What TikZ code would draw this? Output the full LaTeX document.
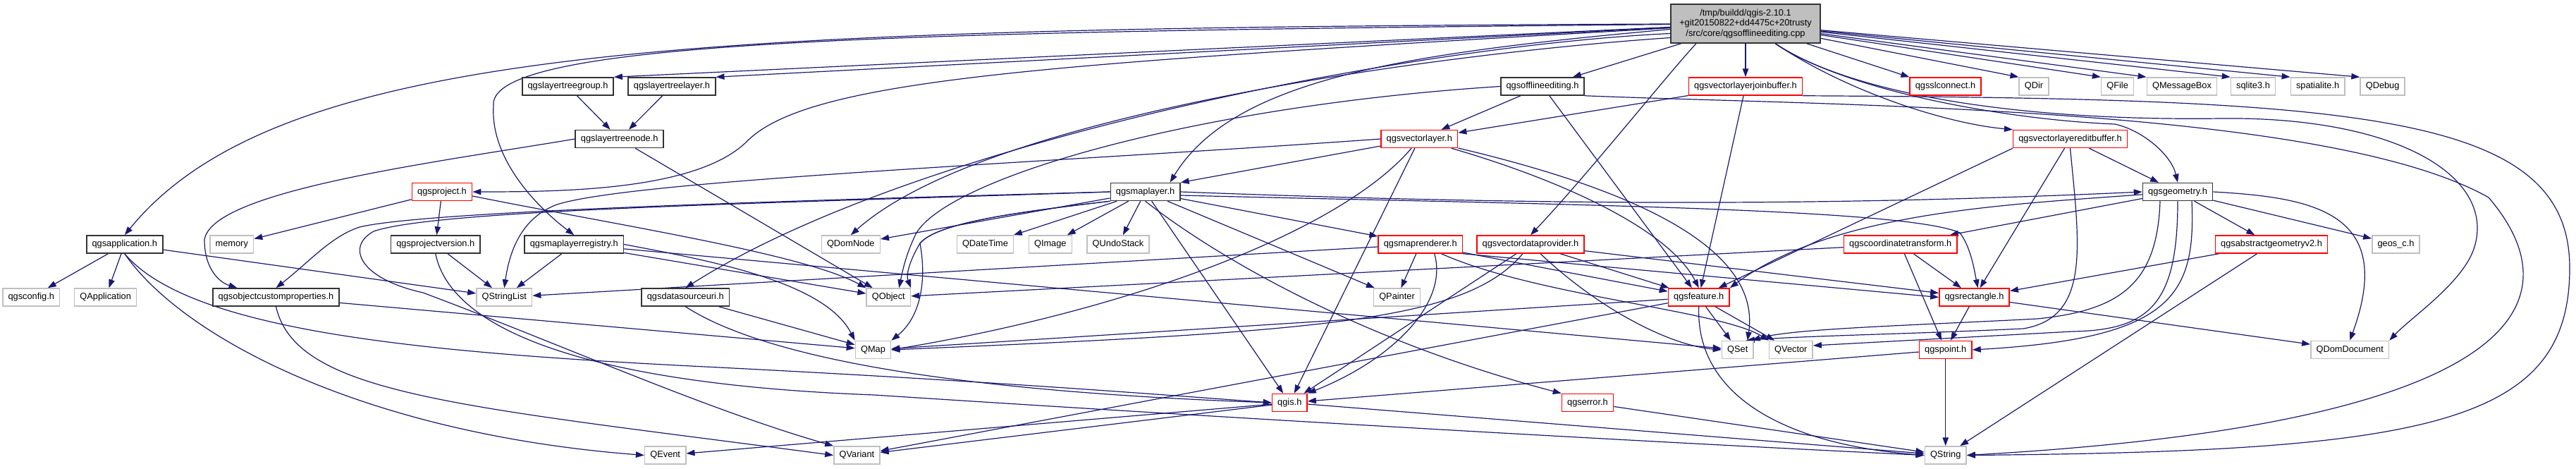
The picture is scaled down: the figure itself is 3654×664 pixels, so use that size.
\documentclass[tikz,border=0pt]{standalone}
\usepackage{fontspec}
\setmainfont{Liberation Sans}
\usetikzlibrary{arrows.meta,calc}
\definecolor{edgec}{HTML}{191970}
\definecolor{redc}{HTML}{FF0000}
\definecolor{grayc}{HTML}{BFBFBF}
\definecolor{blkc}{HTML}{333333}
\pgfdeclarelayer{edgelayer}
\pgfsetlayers{edgelayer,main}
\newcommand\nfont{\fontsize{12.8}{14.7}\selectfont}
\begin{document}
\begin{tikzpicture}[x=1pt,y=-1pt,
  nbase/.style={rectangle, font=\nfont, inner xsep=7.7pt, inner ysep=0pt,
    minimum height=25pt, text height=9.5pt, text depth=2.7pt, fill=white, line width=1.5pt},
  bnode/.style={nbase, draw=blkc},
  rnode/.style={nbase, draw=redc},
  gnode/.style={nbase, draw=grayc},
  rootst/.style={rectangle, draw=blkc, fill=grayc, line width=1.5pt, font=\nfont,
    align=center, minimum width=212pt, minimum height=55pt, inner sep=0pt},
  edg/.style={draw=edgec, line width=1.2pt, -{Triangle[length=12pt,width=8.5pt]}}]
\useasboundingbox (0,0) rectangle (3654,664);
% ---------- nodes ----------
\node[rootst] (root) at (2476,33.5) {/tmp/buildd/qgis-2.10.1\\+git20150822+dd4475c+20trusty\\/src/core/qgsofflineediting.cpp};
\node[bnode] (ltg) at (805.5,122.5) {qgslayertreegroup.h};
\node[bnode] (ltl) at (953,122.5) {qgslayertreelayer.h};
\node[bnode] (oe) at (2188,122.5) {qgsofflineediting.h};
\node[rnode] (jb) at (2476,122.5) {qgsvectorlayerjoinbuffer.h};
\node[rnode] (slc) at (2759.5,122.5) {qgsslconnect.h};
\node[gnode] (qdir) at (2885,122.5) {QDir};
\node[gnode] (qfile) at (3003.6,122.5) {QFile};
\node[gnode] (qmsg) at (3095,122.5) {QMessageBox};
\node[gnode] (sqlite) at (3196,122.5) {sqlite3.h};
\node[gnode] (spatialite) at (3287.6,122.5) {spatialite.h};
\node[gnode] (qdebug) at (3379.6,122.5) {QDebug};
\node[bnode] (ltn) at (878.7,197) {qgslayertreenode.h};
\node[rnode] (vl) at (2013.3,197) {qgsvectorlayer.h};
\node[rnode] (eb) at (2936.5,197) {qgsvectorlayereditbuffer.h};
\node[rnode] (proj) at (627,272) {qgsproject.h};
\node[bnode] (ml) at (1624.6,272) {qgsmaplayer.h};
\node[bnode] (geom) at (3089,272) {qgsgeometry.h};
\node[bnode] (app) at (176.8,346.5) {qgsapplication.h};
\node[gnode] (memory) at (328.8,346.5) {memory};
\node[bnode] (pv) at (617.8,346.5) {qgsprojectversion.h};
\node[bnode] (mlr) at (814.3,346.5) {qgsmaplayerregistry.h};
\node[gnode] (qdomnode) at (1206.8,346.5) {QDomNode};
\node[gnode] (qdatetime) at (1397.5,346.5) {QDateTime};
\node[gnode] (qimage) at (1489.8,346.5) {QImage};
\node[gnode] (qundo) at (1586,346.5) {QUndoStack};
\node[rnode] (mr) at (2014.7,346.5) {qgsmaprenderer.h};
\node[rnode] (vdp) at (2171,346.5) {qgsvectordataprovider.h};
\node[rnode] (ct) at (2695.7,346.5) {qgscoordinatetransform.h};
\node[rnode] (ag) at (3222,346.5) {qgsabstractgeometryv2.h};
\node[gnode] (geos) at (3398.5,346.5) {geos\_c.h};
\node[gnode] (cfg) at (44.3,421.5) {qgsconfig.h};
\node[gnode] (qapp) at (149.7,421.5) {QApplication};
\node[bnode] (ocp) at (391.5,421.5) {qgsobjectcustomproperties.h};
\node[gnode] (qsl) at (715.3,421.5) {QStringList};
\node[bnode] (dsu) at (972.3,421.5) {qgsdatasourceuri.h};
\node[gnode] (qobject) at (1260.3,421.5) {QObject};
\node[gnode] (qpainter) at (1981.5,421.5) {QPainter};
\node[rnode] (feat) at (2409.7,421.5) {qgsfeature.h};
\node[rnode] (rect) at (2800.5,421.5) {qgsrectangle.h};
\node[gnode] (qmap) at (1238.5,496) {QMap};
\node[gnode] (qset) at (2464.8,496) {QSet};
\node[gnode] (qvector) at (2540.3,496) {QVector};
\node[rnode] (pt) at (2759.7,496) {qgspoint.h};
\node[gnode] (qdomdoc) at (3333.2,496) {QDomDocument};
\node[rnode] (qgis) at (1829.3,571) {qgis.h};
\node[rnode] (err) at (2252,571) {qgserror.h};
\node[gnode] (qevent) at (943.7,645.5) {QEvent};
\node[gnode] (qvariant) at (1215.4,645.5) {QVariant};
\node[gnode] (qstring) at (2759.7,645.5) {QString};
% ---------- edges ----------
\begin{pgfonlayer}{edgelayer}
% root
\draw[edg] (root) .. controls (1000,40) and (400,60) .. (app.north);
\draw[edg] (root) -- (ltg.north east);
\draw[edg] (root) -- (ltl.north east);
\draw[edg] (root) .. controls (1500,90) and (1150,110) .. (1060,200) .. controls (990,270) and (800,272) .. (proj.east);
\draw[edg] (root) .. controls (1300,45) and (690,55) .. (700,150) .. controls (695,230) and (770,300) .. (mlr.north);
\draw[edg] ($(root.west)+(0,8)$) .. controls (2000,75) and (1750,110) .. ($(ml.north)+(35,0)$);
\draw[edg] ($(root.west)+(0,14)$) .. controls (2000,65) and (1300,200) .. (dsu.north);
\draw[edg] ($(root.west)+(0,20)$) .. controls (2050,75) and (1400,160) .. (qdomnode.north);
\draw[edg] (root) -- (oe);
\draw[edg] (root) -- (jb);
\draw[edg] ($(root.south)+(-70,0)$) .. controls (2370,100) and (2250,250) .. (vdp.north);
\draw[edg] (root) .. controls (2620,130) and (2760,175) .. (eb.north west);
\draw[edg] (root) .. controls (2620,130) and (2850,170) .. (3000,176) .. controls (3040,185) and (3080,220) .. (geom.north);
\draw[edg] (root) .. controls (2620,130) and (2850,172) .. (3150,168) .. controls (3400,165) and (3540,250) .. (3510,350) .. controls (3495,400) and (3420,450) .. (qdomdoc.north east);
\draw[edg] (root) -- (slc.north west);
\draw[edg] (root) -- (qdir.north west);
\draw[edg] (root) -- (qfile.north west);
\draw[edg] (root) -- (qmsg.north west);
\draw[edg] (root) -- (sqlite.north west);
\draw[edg] (root) -- (spatialite.north west);
\draw[edg] (root) -- (qdebug.north west);
% layer tree
\draw[edg] (ltg) -- (ltn);
\draw[edg] (ltl) -- (ltn);
\draw[edg] (ltn) -- (qobject);
\draw[edg] (ltn.west) .. controls (620,230) and (300,270) .. (290,340) .. controls (290,380) and (310,400) .. ($(ocp.north)+(-55,0)$);
% offline editing
\draw[edg] (oe) -- (vl);
\draw[edg] (oe) -- (feat);
\draw[edg] (oe.west) .. controls (1700,150) and (1350,250) .. (1300,330) .. controls (1285,360) and (1280,385) .. ($(qobject.north)+(15,0)$);
\draw[edg] (oe.south east) .. controls (2600,150) and (3300,150) .. (3530,280) .. controls (3650,420) and (3600,600) .. (qstring.east);
% join buffer
\draw[edg] (jb) -- (vl);
\draw[edg] (jb) -- (feat);
\draw[edg] (jb.south east) .. controls (3350,140) and (3645,160) .. (3645,380) .. controls (3645,600) and (3450,640) .. (qstring.east);
% edit buffer
\draw[edg] (eb) -- (geom);
\draw[edg] (eb.south west) -- (feat);
\draw[edg] (eb) -- (rect);
\draw[edg] (eb.south) .. controls (2950,350) and (2965,450) .. (2870,466) .. controls (2700,474) and (2560,476) .. ($(qset.north)+(12,0)$);
% vector layer
\draw[edg] (vl) -- (ml.north east);
\draw[edg] (vl.west) .. controls (1500,230) and (900,255) .. (790,290) .. controls (750,305) and (725,340) .. (qsl.north);
\draw[edg] (vl) .. controls (1900,330) and (1600,440) .. (qmap.east);
\draw[edg] (vl) .. controls (2280,260) and (2500,340) .. ($(qset.north)+(14,0)$);
\draw[edg] (vl) -- (qgis);
\draw[edg] (vl) .. controls (2230,260) and (2370,330) .. (feat.north);
% map renderer
\draw[edg] (mr) -- (qpainter);
\draw[edg] ($(mr.south)+(20,0)$) .. controls (2055,430) and (1975,510) .. (qgis.north east);
\draw[edg] (mr) -- (feat);
\draw[edg] (mr.south east) -- (rect.west);
\draw[edg] (mr) -- (qsl);
\draw[edg] (mr) .. controls (2180,420) and (2440,440) .. (qvector.north west);
% vector data provider
\draw[edg] (vdp) -- (feat);
\draw[edg] (vdp) -- (qgis);
\draw[edg] (vdp) .. controls (2080,455) and (1880,470) .. (qmap.east);
\draw[edg] (vdp) .. controls (2270,440) and (2370,490) .. (qset.west);
\draw[edg] (vdp) -- (rect);
% map layer
\draw[edg] (ml) -- (qdomnode);
\draw[edg] (ml) -- (qdatetime);
\draw[edg] (ml) -- (qimage);
\draw[edg] (ml) -- (qundo);
\draw[edg] (ml) -- (mr);
\draw[edg] (ml) -- (qpainter);
\draw[edg] (ml) -- (qgis);
\draw[edg] (ml.south) .. controls (1720,360) and (1920,480) .. (err.north west);
\draw[edg] (ml.south west) .. controls (1450,300) and (1330,315) .. (1305,345) .. controls (1290,370) and (1285,390) .. (qobject.north east);
\draw[edg] (ml.south west) .. controls (1450,300) and (1330,315) .. (1305,345) .. controls (1315,400) and (1305,450) .. (qmap.north east);
\draw[edg] (ml.west) .. controls (1100,285) and (600,300) .. (510,322) .. controls (470,335) and (440,370) .. (ocp.north);
\draw[edg] (ml.west) .. controls (1100,288) and (620,297) .. (530,328) .. controls (490,350) and (510,395) .. (600,415) .. controls (800,490) and (1000,580) .. (qvariant.north west);
\draw[edg] ($(ml.east)+(0,5)$) .. controls (2200,290) and (2700,295) .. (2780,330) .. controls (2795,350) and (2800,380) .. ($(rect.north)+(5,0)$);
\draw[edg] (ml.east) .. controls (2200,292) and (2600,292) .. (geom.west);
% geometry
\draw[edg] (geom) -- (ag);
\draw[edg] (geom) -- (geos);
\draw[edg] (geom) -- (ct);
\draw[edg] (geom.east) .. controls (3280,280) and (3400,300) .. (qdomdoc.north);
\draw[edg] (geom) .. controls (2850,290) and (2600,300) .. (feat.north east);
\draw[edg] ($(geom.south)+(-25,0)$) .. controls (3060,400) and (3010,440) .. (2890,452) .. controls (2700,462) and (2540,466) .. ($(qset.north)+(20,0)$);
\draw[edg] (geom.south) .. controls (3089,430) and (3050,468) .. (2940,470) -- ($(qvector.east)+(0,-6)$);
\draw[edg] ($(geom.south)+(20,0)$) .. controls (3115,420) and (3080,480) .. (pt.east);
% coordinate transform, abstract geometry
\draw[edg] (ct) -- (qobject);
\draw[edg] (ct) -- (pt);
\draw[edg] (ct) -- (rect);
\draw[edg] (ag) -- (rect);
\draw[edg] (ag) -- (qstring);
% rectangle, point
\draw[edg] (rect) -- (pt);
\draw[edg] (rect) -- (qdomdoc);
\draw[edg] (pt) -- (qstring);
\draw[edg] (pt) -- (qgis);
% feature
\draw[edg] (feat) -- (qmap);
\draw[edg] (feat) -- (qset);
\draw[edg] (feat) -- (qvector);
\draw[edg] (feat.south) .. controls (2405,560) and (2530,630) .. (qstring.west);
\draw[edg] (feat) -- (qvariant);
% qgis, error
\draw[edg] (qgis) -- (qevent);
\draw[edg] (qgis) -- (qvariant);
\draw[edg] (qgis) -- (qstring);
\draw[edg] (err) -- (qstring);
% project
\draw[edg] (proj) -- (memory);
\draw[edg] (proj) -- (pv);
\draw[edg] ($(proj.east)+(0,6)$) .. controls (880,320) and (1140,360) .. (qobject.north west);
% project version, application, registry, uri, custom properties
\draw[edg] (pv) -- (qsl);
\draw[edg] (pv.south) .. controls (640,470) and (840,545) .. (1240,560) .. controls (1700,590) and (2300,625) .. (qstring.west);
\draw[edg] (app) -- (cfg);
\draw[edg] (app) -- (qapp);
\draw[edg] (app) -- (qsl);
\draw[edg] (app.south) .. controls (260,480) and (520,615) .. (qevent.west);
\draw[edg] (app.south) .. controls (270,470) and (600,500) .. (1000,520) .. controls (1400,540) and (1650,560) .. (qgis.west);
\draw[edg] (mlr) -- (qsl);
\draw[edg] (mlr) -- (qobject);
\draw[edg] (mlr.east) .. controls (1010,370) and (1170,400) .. (qmap.north west);
\draw[edg] (mlr) -- (qset);
\draw[edg] (dsu) -- (qmap);
\draw[edg] (dsu.south) .. controls (1120,530) and (1500,560) .. (qgis.west);
\draw[edg] (ocp) -- (qmap);
\draw[edg] (ocp.south) .. controls (420,560) and (650,575) .. (qvariant.west);
\end{pgfonlayer}
\end{tikzpicture}
\end{document}
